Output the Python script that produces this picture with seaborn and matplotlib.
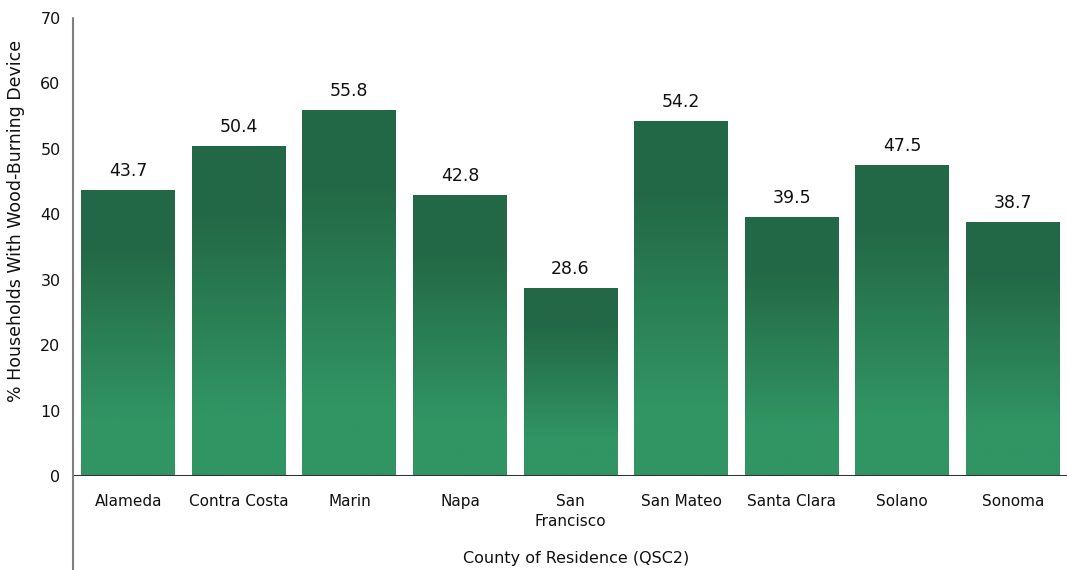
import numpy as np
import pandas as pd
import seaborn as sns
import matplotlib
matplotlib.use("Agg")
from matplotlib import pyplot as plt
from matplotlib.colors import LinearSegmentedColormap

# data
counties = ["Alameda", "Contra Costa", "Marin", "Napa", "San Francisco",
            "San Mateo", "Santa Clara", "Solano", "Sonoma"]
pct_wood = [43.7, 50.4, 55.8, 42.8, 28.6, 54.2, 39.5, 47.5, 38.7]
tick_labels = ["Alameda", "Contra Costa", "Marin", "Napa", "San\nFrancisco",
               "San Mateo", "Santa Clara", "Solano", "Sonoma"]

df = pd.DataFrame({"county": counties, "pct": pct_wood})

sns.set_style("white")
plt.rcParams["font.family"] = ["DejaVu Sans"]

fig = plt.figure(figsize=(10.67, 5.7), dpi=100)
ax = fig.add_axes([73 / 1067, 1 - 476 / 570, (1068 - 73) / 1067, (476 - 18) / 570])

sns.barplot(data=df, x="county", y="pct", color="#2b7a52", width=0.85,
            errorbar=None, ax=ax, order=counties)

# vertical gradient fill for each bar
grad = LinearSegmentedColormap.from_list(
    "wood", [(0.0, "#236846"), (0.2, "#236846"), (0.8, "#319463"), (1.0, "#319463")])
g = np.linspace(0, 1, 256).reshape(-1, 1)
for p in ax.patches:
    x0, y0 = p.get_x(), p.get_y()
    w, h = p.get_width(), p.get_height()
    p.set_facecolor("none")
    p.set_edgecolor("none")
    ax.imshow(g, cmap=grad, aspect="auto", extent=[x0, x0 + w, y0, y0 + h],
              origin="upper", zorder=2)
    ax.text(x0 + w / 2, h + 1.6, f"{h:.1f}", ha="center", va="bottom",
            fontsize=12.5, color="#111111")

ax.set_xlim(-0.5, len(counties) - 0.5)
ax.set_ylim(0, 70)
ax.set_yticks(range(0, 71, 10))
ax.set_xticks(range(len(counties)))
ax.set_xticklabels(tick_labels, fontsize=11, color="#111111", linespacing=1.45)
ax.tick_params(axis="y", labelsize=11.5, colors="#111111", length=0, pad=9)
ax.tick_params(axis="x", length=0, pad=13)

for s in ["top", "right", "bottom", "left"]:
    ax.spines[s].set_visible(False)
ax.axhline(0, color="#333333", lw=1.5, zorder=3)
ax.plot([0, 0], [-0.205, 1], transform=ax.transAxes, color="#808080",
        lw=1.5, clip_on=False, zorder=3)

ax.set_xlabel("County of Residence (QSC2)", fontsize=11.5, color="#111111")
ax.xaxis.set_label_coords(0.506, -0.163)
ax.set_ylabel("% Households With Wood-Burning Device", fontsize=12.5,
              color="#111111")
ax.yaxis.set_label_coords(-0.048, 0.557)

fig.savefig("out.png", dpi=100)
